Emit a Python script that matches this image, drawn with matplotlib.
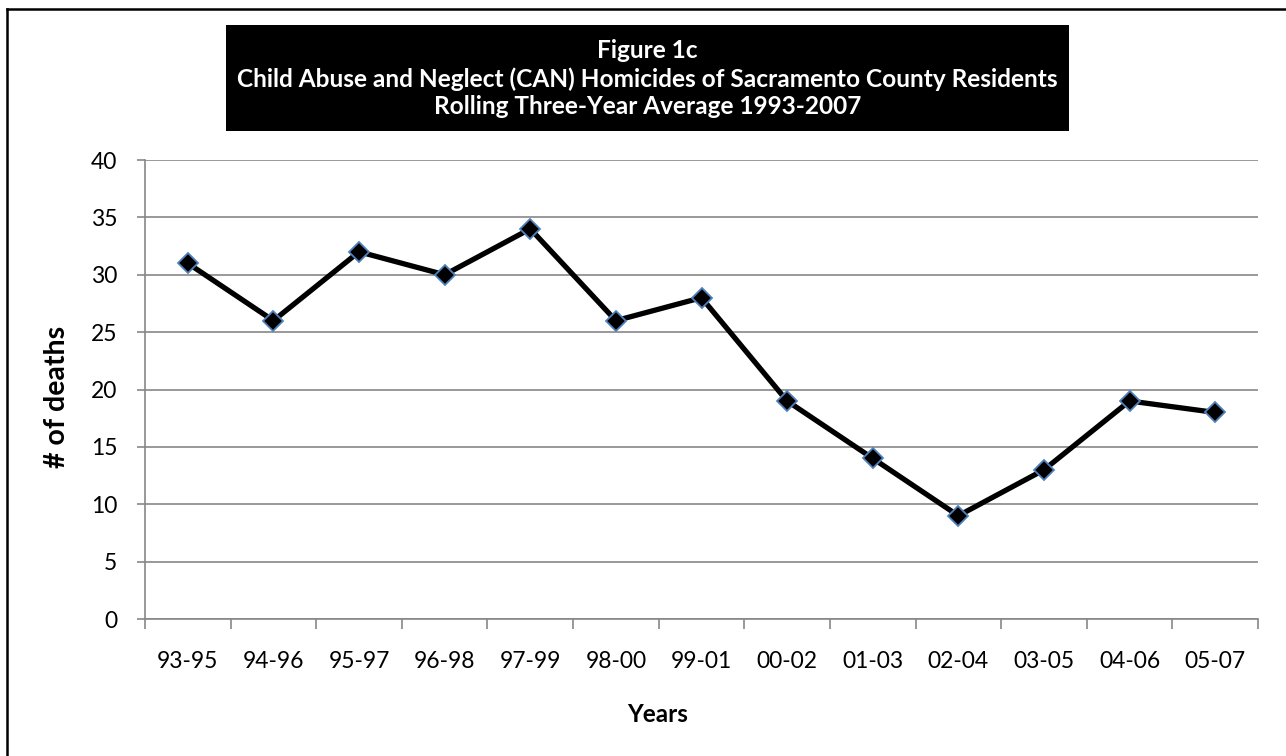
import matplotlib
matplotlib.use("Agg")
import matplotlib.pyplot as plt
from matplotlib.patches import Rectangle
from matplotlib.lines import Line2D

periods = ["93-95", "94-96", "95-97", "96-98", "97-99", "98-00", "99-01",
           "00-02", "01-03", "02-04", "03-05", "04-06", "05-07"]
deaths = [31, 26, 32, 30, 34, 26, 28, 19, 14, 9, 13, 19, 18]
y_ticks = [0, 5, 10, 15, 20, 25, 30, 35, 40]

title_lines = ["Figure 1c",
               "Child Abuse and Neglect (CAN) Homicides of Sacramento County Residents",
               "Rolling Three-Year Average 1993-2007"]

plt.rcParams["font.family"] = ["Lato", "DejaVu Sans"]
W, H = 1286, 756
fig = plt.figure(figsize=(W / 100, H / 100), dpi=100)
ax = fig.add_axes([145 / W, 1 - 619 / H, (1258 - 145) / W, (619 - 160) / H])

grey = "#878787"
x = list(range(len(periods)))
ax.plot(x, deaths, color="black", lw=3.8, marker="D", ms=10,
        markerfacecolor="black", markeredgecolor="#4F81BD", mew=1.3, zorder=3)

ax.set_xlim(-0.5, len(periods) - 0.5)
ax.set_ylim(0, 40)
ax.set_yticks(y_ticks)
ax.set_xticks(x)
ax.set_xticklabels(periods)
ax.set_xticks([i - 0.5 for i in range(len(periods) + 1)], minor=True)
ax.tick_params(axis="x", which="major", length=0, pad=23, labelsize=16.5)
ax.tick_params(axis="x", which="minor", length=7, width=1.2, color=grey)
ax.tick_params(axis="y", length=6, width=1.2, color=grey, pad=14, labelsize=16.5)
ax.yaxis.grid(True, color=grey, lw=1.2)
ax.set_axisbelow(True)
for s in ["top", "right"]:
    ax.spines[s].set_visible(False)
for s in ["left", "bottom"]:
    ax.spines[s].set_color(grey)
    ax.spines[s].set_linewidth(1.2)

# axis titles
fig.text(57 / W, 1 - 397 / H, "# of deaths", rotation=90, ha="center", va="center",
         fontsize=20.5, fontweight="bold")
fig.text(658 / W, 1 - 715 / H, "Years", ha="center", va="center",
         fontsize=17.5, fontweight="bold")

# black title box
fig.patches.append(Rectangle((226 / W, 1 - 131 / H), (1069 - 226) / W, (131 - 25) / H,
                             transform=fig.transFigure, facecolor="black", edgecolor="none"))
for i, line in enumerate(title_lines):
    fig.text(647.5 / W, 1 - (51 + 28 * i) / H, line, ha="center", va="center",
             color="white", fontsize=17.6, fontweight="bold")

# outer frame (left and top edges visible)
fig.lines.append(Line2D([7 / W, 7 / W], [0, 1 - 9 / H], transform=fig.transFigure,
                        color="black", lw=1.8))
fig.lines.append(Line2D([7 / W, 1], [1 - 9 / H, 1 - 9 / H], transform=fig.transFigure,
                        color="black", lw=1.8))

fig.savefig("out.png", dpi=100)
